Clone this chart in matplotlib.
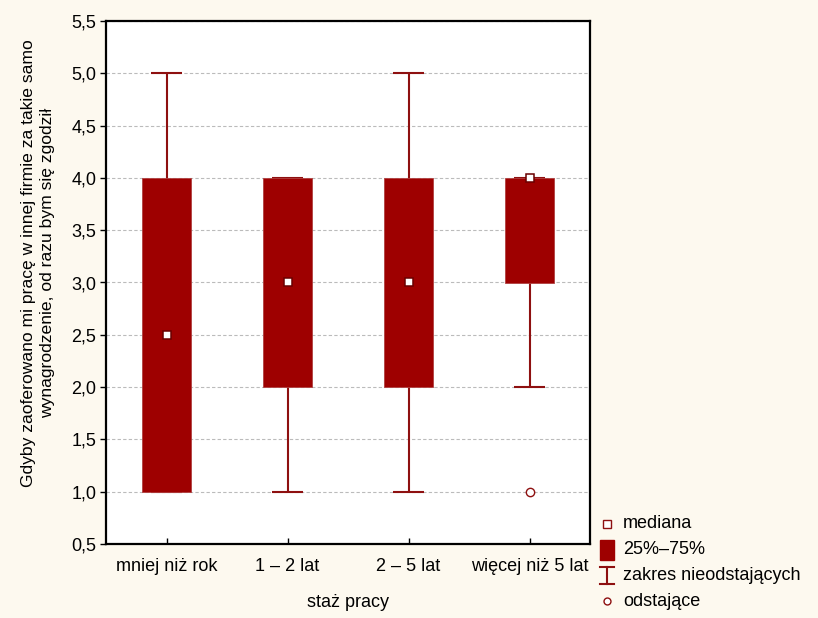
import matplotlib
matplotlib.use("Agg")
import matplotlib.pyplot as plt
from matplotlib.patches import Rectangle

plt.rcParams['font.family'] = ['Liberation Sans', 'DejaVu Sans']

categories = ["mniej niż rok", "1 – 2 lat", "2 – 5 lat", "więcej niż 5 lat"]
medians = [2.5, 3.0, 3.0, 4.0]
q1 = [1.0, 2.0, 2.0, 3.0]
q3 = [4.0, 4.0, 4.0, 4.0]
whisk_lo = [1.0, 1.0, 1.0, 2.0]
whisk_hi = [5.0, 4.0, 5.0, 4.0]
outlier_x = [3]
outlier_y = [1.0]
yticks = [0.5, 1.0, 1.5, 2.0, 2.5, 3.0, 3.5, 4.0, 4.5, 5.0, 5.5]
ytick_labels = ["0,5", "1,0", "1,5", "2,0", "2,5", "3,0", "3,5", "4,0", "4,5", "5,0", "5,5"]
xlabel = "staż pracy"
ylabel = "Gdyby zaoferowano mi pracę w innej firmie za takie samo\nwynagrodzenie, od razu bym się zgodził"
legend_labels = ["mediana", "25%–75%", "zakres nieodstających", "odstające"]

BOX = "#9E0000"
LINE = "#8E1010"
BG = "#FDF9EF"
FS = 13

W, H = 818, 618
fig = plt.figure(figsize=(W / 100, H / 100), dpi=100, facecolor=BG)
ax = fig.add_axes([106 / W, 1 - 544 / H, (590 - 106) / W, (544 - 21) / H])
ax.set_facecolor("white")

pos = list(range(len(categories)))
ax.set_xlim(-0.5, len(categories) - 0.5)
ax.set_ylim(0.5, 5.5)

# whiskers
ax.vlines(pos, whisk_lo, whisk_hi, color=LINE, lw=1.5, zorder=2)
ax.hlines(whisk_lo, [p - 0.125 for p in pos], [p + 0.125 for p in pos], color=LINE, lw=1.5, zorder=2)
ax.hlines(whisk_hi, [p - 0.125 for p in pos], [p + 0.125 for p in pos], color=LINE, lw=1.5, zorder=2)
# boxes
heights = [b - a for a, b in zip(q1, q3)]
ax.bar(pos, heights, bottom=q1, width=0.41, color=BOX, edgecolor="#B04040", linewidth=0.6, zorder=3)
# medians
ax.plot(pos, medians, linestyle="none", marker="s", markersize=6, markerfacecolor="white",
        markeredgecolor="#6A0000", markeredgewidth=1.1, zorder=4)
# outliers
ax.plot(outlier_x, outlier_y, linestyle="none", marker="o", markersize=6, markerfacecolor="white",
        markeredgecolor=LINE, markeredgewidth=1.0, zorder=4)

ax.set_yticks(yticks)
ax.set_yticklabels(ytick_labels, fontsize=FS)
ax.set_xticks(pos)
ax.set_xticklabels(categories, fontsize=FS)
ax.tick_params(axis="y", direction="out", length=4, width=1, pad=3)
ax.tick_params(axis="x", direction="in", length=4, width=1, pad=10)
ax.yaxis.grid(True, linestyle=(0, (3, 2)), color="#BBBBBB", lw=0.8, zorder=0)
ax.set_axisbelow(True)
for s in ax.spines.values():
    s.set_linewidth(1.6)
    s.set_color("black")

ax.set_xlabel(xlabel, fontsize=FS, labelpad=14)
ax.set_ylabel(ylabel, fontsize=12.6, linespacing=1.35, va="center")
ax.yaxis.set_label_coords(-0.1405, 0.538)

# legend drawn in figure pixel coordinates
lax = fig.add_axes([0, 0, 1, 1], facecolor="none")
lax.set_xlim(0, W)
lax.set_ylim(H, 0)
lax.axis("off")
mx = 607
ys = [524, 550, 575, 601]
lax.plot([mx], [ys[0]], marker="s", markersize=5.5, markerfacecolor="white",
         markeredgecolor=LINE, markeredgewidth=1.0, linestyle="none")
lax.add_patch(Rectangle((mx - 7, ys[1] - 10), 14, 20, color=BOX))
lax.plot([mx, mx], [ys[2] - 8, ys[2] + 9], color=LINE, lw=1.5)
lax.plot([mx - 7, mx + 7], [ys[2] - 8, ys[2] - 8], color=LINE, lw=1.5)
lax.plot([mx - 7, mx + 7], [ys[2] + 9, ys[2] + 9], color=LINE, lw=1.5)
lax.plot([mx], [ys[3]], marker="o", markersize=5, markerfacecolor="white",
         markeredgecolor=LINE, markeredgewidth=1.0, linestyle="none")
for y, t in zip(ys, legend_labels):
    lax.text(623, y, t, fontsize=FS, va="center", ha="left")

fig.savefig("out.png", dpi=100, facecolor=BG)
